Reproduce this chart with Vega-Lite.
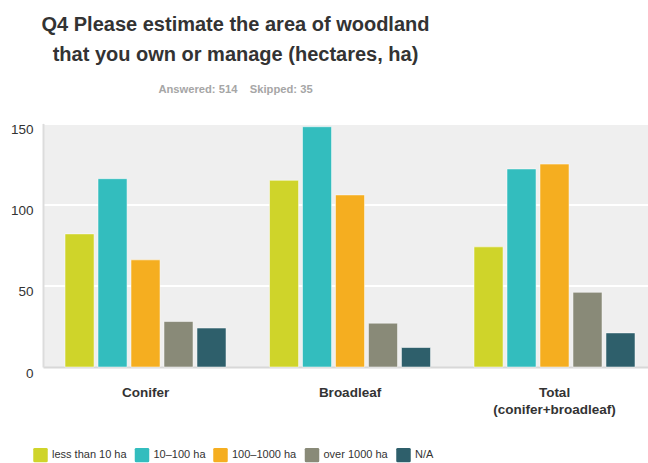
{
  "$schema": "https://vega.github.io/schema/vega-lite/v6.json",
  "autosize": {"type": "none"},
  "width": 605,
  "height": 243.5,
  "padding": {"left": 43, "top": 123.5, "right": 0, "bottom": 96},
  "background": "white",
  "title": {
    "text": ["Q4 Please estimate the area of woodland", "that you own or manage (hectares, ha)"],
    "subtitle": "Answered: 514\u00a0\u00a0\u00a0\u00a0Skipped: 35",
    "anchor": "middle",
    "dx": -110,
    "font": "Liberation Sans",
    "fontSize": 20,
    "fontWeight": "bold",
    "color": "#333333",
    "lineHeight": 30,
    "subtitleFont": "Liberation Sans",
    "subtitleFontSize": 11.2,
    "subtitleFontWeight": "bold",
    "subtitleColor": "#a6a6a6",
    "subtitlePadding": 19,
    "offset": 27
  },
  "data": {
    "values": [
      {"category": "Conifer", "size": "less than 10 ha", "count": 82},
      {"category": "Conifer", "size": "10–100 ha", "count": 116},
      {"category": "Conifer", "size": "100–1000 ha", "count": 66},
      {"category": "Conifer", "size": "over 1000 ha", "count": 28},
      {"category": "Conifer", "size": "N/A", "count": 24},
      {"category": "Broadleaf", "size": "less than 10 ha", "count": 115},
      {"category": "Broadleaf", "size": "10–100 ha", "count": 148},
      {"category": "Broadleaf", "size": "100–1000 ha", "count": 106},
      {"category": "Broadleaf", "size": "over 1000 ha", "count": 27},
      {"category": "Broadleaf", "size": "N/A", "count": 12},
      {"category": "Total (conifer+broadleaf)", "size": "less than 10 ha", "count": 74},
      {"category": "Total (conifer+broadleaf)", "size": "10–100 ha", "count": 122},
      {"category": "Total (conifer+broadleaf)", "size": "100–1000 ha", "count": 125},
      {"category": "Total (conifer+broadleaf)", "size": "over 1000 ha", "count": 46},
      {"category": "Total (conifer+broadleaf)", "size": "N/A", "count": 21}
    ]
  },
  "mark": {"type": "bar", "stroke": "#ffffff", "strokeWidth": 1, "strokeOpacity": 0.5},
  "encoding": {
    "x": {
      "field": "category",
      "type": "nominal",
      "sort": ["Conifer", "Broadleaf", "Total (conifer+broadleaf)"],
      "scale": {"paddingInner": 0.2127, "paddingOuter": 0.0856, "align": 0.629},
      "axis": {
        "title": null,
        "labelAngle": 0,
        "labelFont": "Liberation Sans",
        "labelFontWeight": "bold",
        "labelFontSize": 13.5,
        "labelColor": "#333333",
        "labelPadding": 18,
        "ticks": false,
        "domainColor": "#d8d8d8",
        "domainWidth": 2,
        "labelLineHeight": 17,
        "labelExpr": "datum.value == 'Total (conifer+broadleaf)' ? ['Total', '(conifer+broadleaf)'] : datum.value"
      }
    },
    "xOffset": {
      "field": "size",
      "type": "nominal",
      "sort": ["less than 10 ha", "10–100 ha", "100–1000 ha", "over 1000 ha", "N/A"],
      "scale": {"paddingInner": 0.12}
    },
    "y": {
      "field": "count",
      "type": "quantitative",
      "scale": {"domain": [0, 150]},
      "axis": {
        "title": null,
        "values": [0, 50, 100, 150],
        "ticks": false,
        "domainColor": "#dcdcdc",
        "domainWidth": 2,
        "gridColor": "#ffffff",
        "gridWidth": 2,
        "labelFont": "Liberation Sans",
        "labelFontSize": 13.5,
        "labelColor": "#333333",
        "labelPadding": 10,
        "labelOffset": 6
      }
    },
    "color": {
      "field": "size",
      "type": "nominal",
      "sort": ["less than 10 ha", "10–100 ha", "100–1000 ha", "over 1000 ha", "N/A"],
      "scale": {
        "domain": ["less than 10 ha", "10–100 ha", "100–1000 ha", "over 1000 ha", "N/A"],
        "range": ["#cfd42a", "#33bdbe", "#f5ae20", "#898a78", "#2e5f6b"]
      },
      "legend": {
        "title": null,
        "orient": "none",
        "direction": "horizontal",
        "legendX": -10,
        "legendY": 324,
        "symbolType": "M-0.8,-1L0.8,-1Q1,-1 1,-0.8L1,0.8Q1,1 0.8,1L-0.8,1Q-1,1 -1,0.8L-1,-0.8Q-1,-1 -0.8,-1Z",
        "symbolSize": 210,
        "symbolStrokeWidth": 0,
        "symbolOpacity": 1,
        "labelFont": "Liberation Sans",
        "labelFontSize": 11,
        "labelColor": "#333333",
        "labelOffset": 4,
        "columnPadding": 7.5
      }
    }
  },
  "config": {"view": {"fill": "#efefef", "stroke": null}}
}
